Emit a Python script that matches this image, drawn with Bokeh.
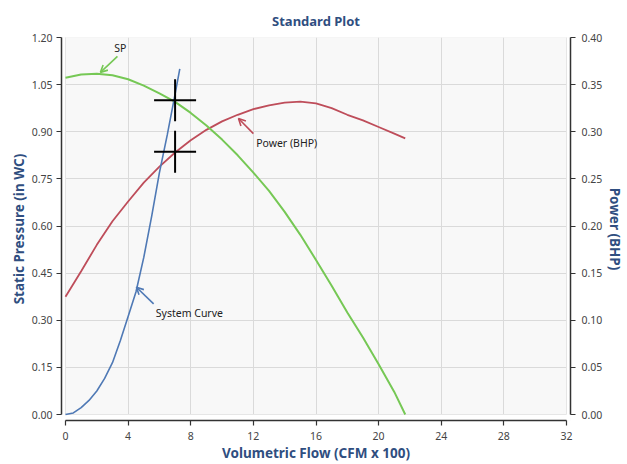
from bokeh.plotting import figure
from bokeh.models import (Range1d, LinearAxis, FixedTicker, PrintfTickFormatter,
                          Arrow, OpenHead, BoxAnnotation, Label)
from bokeh.embed import file_html
from bokeh.resources import INLINE

# ---- data ----
flow_sp = [0, 1, 2, 3, 4, 5, 6, 7, 8, 9, 10, 11, 12, 13, 14, 15, 16, 17, 18, 19, 20, 21, 21.7]
sp = [1.072, 1.082, 1.085, 1.080, 1.067, 1.047, 1.022, 0.995, 0.96, 0.92, 0.875, 0.825,
      0.77, 0.712, 0.645, 0.572, 0.492, 0.41, 0.325, 0.245, 0.16, 0.072, 0.0]

flow_pw = [0, 1, 2, 3, 4, 5, 6, 7, 8, 9, 10, 11, 12, 13, 14, 15, 16, 17, 18, 19, 20, 21, 21.7]
power = [0.125, 0.152, 0.180, 0.205, 0.226, 0.246, 0.263, 0.278, 0.291, 0.302, 0.311, 0.318,
         0.324, 0.328, 0.331, 0.332, 0.330, 0.325, 0.318, 0.312, 0.305, 0.298, 0.293]

flow_sys = [0, 0.5, 1, 1.5, 2, 2.5, 3, 3.5, 4, 4.5, 5, 5.5, 6, 6.5, 7, 7.3]
sys_sp = [0, 0.005, 0.022, 0.045, 0.075, 0.115, 0.165, 0.235, 0.312, 0.39, 0.50, 0.63,
          0.77, 0.89, 1.02, 1.10]

op_flow = [7.0]
op_sp = [1.0]
op_power = [0.2787]

x_ticks = [0, 4, 8, 12, 16, 20, 24, 28, 32]
sp_ticks = [0.0, 0.15, 0.30, 0.45, 0.60, 0.75, 0.90, 1.05, 1.20]
pw_ticks = [0.0, 0.05, 0.10, 0.15, 0.20, 0.25, 0.30, 0.35, 0.40]

GREEN = "#76C855"
RED = "#BE4D5A"
BLUE = "#4F79B5"
NAVY = "#2F4E80"
FONT = "Noto Sans"

p = figure(width=627, height=464, output_backend="svg", toolbar_location=None,
           x_range=Range1d(-0.255, 32.255), y_range=Range1d(-0.019, 1.2),
           min_border_left=61, min_border_right=56, min_border_top=37, min_border_bottom=43,
           title="Standard Plot")
p.extra_y_ranges = {"power": Range1d(-0.019 / 3, 0.4)}

p.title.align = "center"
p.title.text_font = FONT
p.title.text_font_size = "13px"
p.title.text_font_style = "bold"
p.title.text_color = NAVY
p.title.standoff = 16

p.background_fill_color = "#F8F8F8"
p.border_fill_color = "white"
p.outline_line_color = None

def style_axis(ax):
    ax.axis_line_color = "#333333"
    ax.axis_line_width = 1.5
    ax.major_tick_line_color = "#333333"
    ax.major_tick_line_width = 1.2
    ax.major_tick_in = 0
    ax.major_tick_out = 5
    ax.minor_tick_line_color = None
    ax.major_label_text_font = FONT
    ax.major_label_text_font_size = "10.5px"
    ax.major_label_text_color = "#444444"
    ax.axis_label_text_font = FONT
    ax.axis_label_text_font_size = "13.5px"
    ax.axis_label_text_font_style = "bold"
    ax.axis_label_text_color = NAVY

xa = p.xaxis[0]
xa.ticker = FixedTicker(ticks=x_ticks)
xa.bounds = (0, 32)
xa.axis_label = "Volumetric Flow (CFM x 100)"
style_axis(xa)
xa.major_label_standoff = 6
xa.axis_label_standoff = 1

ya = p.yaxis[0]
ya.ticker = FixedTicker(ticks=sp_ticks)
ya.formatter = PrintfTickFormatter(format="%.2f")
ya.bounds = (0, 1.2)
ya.axis_label = "Static Pressure (in WC)"
style_axis(ya)
ya.major_label_standoff = 4
ya.axis_label_standoff = 1

ra = LinearAxis(y_range_name="power", ticker=FixedTicker(ticks=pw_ticks),
                formatter=PrintfTickFormatter(format="%.2f"), bounds=(0, 0.4),
                axis_label="Power (BHP)")
style_axis(ra)
ra.major_label_standoff = 6
ra.axis_label_standoff = 1
p.add_layout(ra, "right")

p.xgrid.ticker = FixedTicker(ticks=x_ticks)
p.ygrid.ticker = FixedTicker(ticks=sp_ticks)
p.grid.grid_line_color = "#DADADA"
p.grid.grid_line_width = 1

# white gaps between plot area and the axes, and plot-area border
for kw in (dict(top=0), dict(right=0), dict(left=32)):
    p.add_layout(BoxAnnotation(fill_color="white", fill_alpha=1,
                               line_color=None, level="underlay", **kw))
p.add_layout(BoxAnnotation(bottom=0, top=1.2, left=0, right=32, fill_alpha=0,
                           line_color="#D4D4D4", line_width=1, level="underlay"))

# curves
p.line(flow_pw, power, y_range_name="power", line_color=RED, line_width=1.8)
p.line(flow_sp, sp, line_color=GREEN, line_width=2)
p.line(flow_sys, sys_sp, line_color=BLUE, line_width=1.6)

# operating points
p.scatter(op_flow, op_sp, marker="cross", size=42, line_color="black", line_width=2)
p.scatter(op_flow, op_power, y_range_name="power", marker="cross", size=42,
          line_color="black", line_width=2)

# annotations
def note(x, y, text, xs, ys, xe, ye, color):
    p.add_layout(Arrow(end=OpenHead(size=7, line_color=color, line_width=1.6),
                       x_start=xs, y_start=ys, x_end=xe, y_end=ye,
                       line_color=color, line_width=1.6))
    p.add_layout(Label(x=x, y=y, text=text, text_font=FONT, text_font_size="10.5px",
                       text_baseline="middle", text_align="left", text_color="#222222"))

note(3.12, 1.168, "SP", 3.32, 1.14, 2.23, 1.089, GREEN)
note(12.18, 0.863, "Power (BHP)", 12.0, 0.894, 11.05, 0.942, RED)
note(5.77, 0.324, "System Curve", 5.63, 0.352, 4.53, 0.405, BLUE)

open("out.html", "w").write(file_html(p, INLINE))
